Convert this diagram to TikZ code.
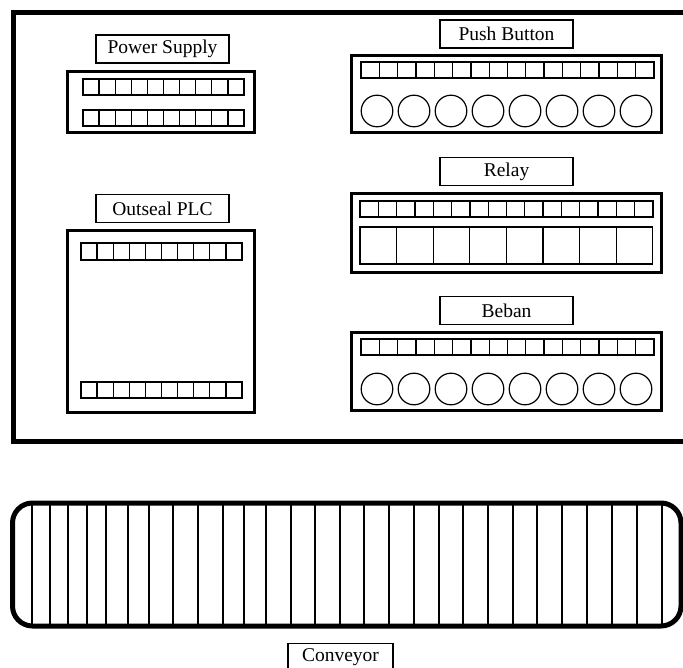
\documentclass[tikz,border=0pt]{standalone}
\usepackage{fontspec}
\setmainfont{Liberation Serif}
\begin{document}
\begin{tikzpicture}[x=1pt,y=-1pt,
  frameline/.style={line width=5pt},
  unitbox/.style={draw, line width=3pt, inner sep=0pt},
  lbl/.style={draw, line width=1.2pt, inner sep=0pt, font=\fontsize{19.5}{22}\selectfont},
  cell/.style={draw, line width=1.3pt},
  slat/.style={line width=1.4pt},
  knob/.style={draw, line width=1.2pt}]
\useasboundingbox (0,0) rectangle (683,668);
\clip (0,0) rectangle (683,668);
% outer frame
\draw[frameline] (13,13) rectangle (700,441);
% labels
\node[lbl, minimum width=133pt, minimum height=28pt] (lps) at (162.5,49) {Power Supply};
\node[lbl, minimum width=133pt, minimum height=28pt] (lplc) at (162.5,208.5) {Outseal PLC};
\node[lbl, minimum width=133pt, minimum height=28pt] (lpb) at (506.5,34) {Push Button};
\node[lbl, minimum width=133pt, minimum height=28pt] (lrl) at (506.5,171.5) {Relay};
\node[lbl, minimum width=133pt, minimum height=28pt] (lbb) at (506.5,310.5) {Beban};
\node[lbl, minimum width=105pt, minimum height=28pt] (lcv) at (340.5,657.5) {Conveyor};
% power supply
\node[unitbox, minimum width=187pt, minimum height=61pt] (ps) at (161,102.5) {};
\foreach \i in {0,...,9} {
  \draw[cell] ({83+\i*16.1},79) rectangle ++(16.1,16);
  \draw[cell] ({83+\i*16.1},110) rectangle ++(16.1,16);
}
% PLC
\node[unitbox, minimum width=187pt, minimum height=181pt] (plc) at (161,321.5) {};
\foreach \i in {0,...,9} {
  \draw[cell] ({81+\i*16.1},243) rectangle ++(16.1,17);
  \draw[cell] ({81+\i*16.1},382) rectangle ++(16.1,16);
}
% push button
\node[unitbox, minimum width=310pt, minimum height=77pt] (pb) at (506.5,94.5) {};
\foreach \i in {0,...,15} \draw[cell] ({361+\i*18.31},62) rectangle ++(18.31,16);
\foreach \i in {0,...,7} \draw[knob] ({377+\i*37},111) circle (15.8);
% relay
\node[unitbox, minimum width=310pt, minimum height=79pt] (rl) at (506.5,233) {};
\foreach \i in {0,...,15} \draw[cell] ({360+\i*18.31},201) rectangle ++(18.31,16);
\foreach \i in {0,...,7} \draw[cell] ({360+\i*36.6},227) rectangle ++(36.6,37);
% beban
\node[unitbox, minimum width=310pt, minimum height=78pt] (bb) at (506.5,371.5) {};
\foreach \i in {0,...,15} \draw[cell] ({361+\i*18.31},339) rectangle ++(18.31,16);
\foreach \i in {0,...,7} \draw[knob] ({377+\i*37},389) circle (15.8);
% conveyor
\foreach \x in {32,50,68,87,106,128,149,173,198,223,244,266,291,315,340,364,389,414,439,463,488,513,537,562,587,612,637,662}
  \draw[slat] (\x,503) -- (\x,626);
\draw[line width=5pt, rounded corners=20pt] (12.5,503) rectangle (681,626);
\end{tikzpicture}
\end{document}
